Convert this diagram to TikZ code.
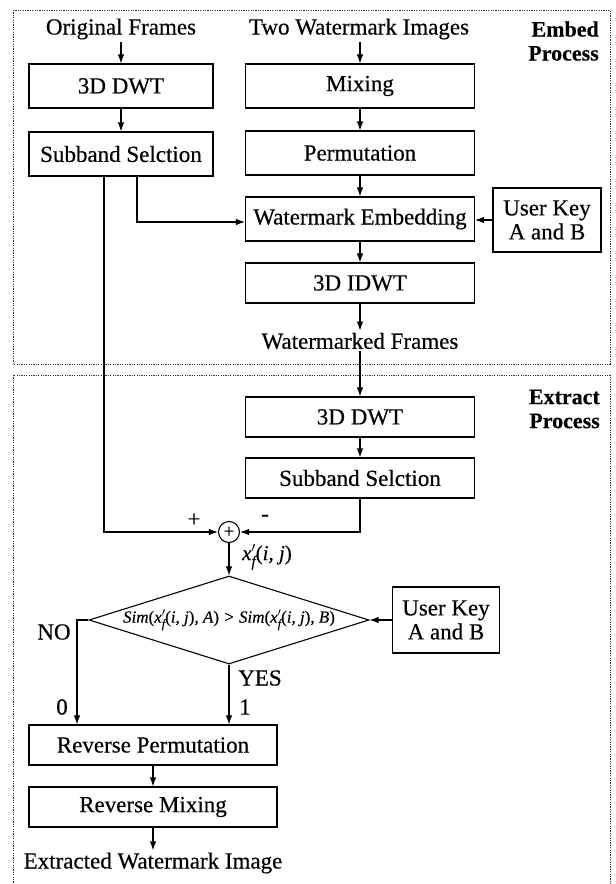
\documentclass[tikz,border=0pt]{standalone}
\usepackage{fontspec}
\usepackage{graphicx}
\setmainfont{Liberation Serif}[FakeBold=0.4]
\usetikzlibrary{arrows.meta,shapes.geometric,calc}

% x' with subscript f, prime stacked above the subscript
\newcommand{\xpf}{\textit{x}\rlap{$'$}\raisebox{-0.3em}{\scalebox{0.72}{\textit{f}}}}

\begin{document}
\begin{tikzpicture}[x=1pt,y=-1pt,
  font=\fontsize{23}{24}\selectfont,
  ln/.style={line width=1.1pt},
  blk/.style={draw,ln,inner sep=0,minimum height=44},
  txt/.style={inner sep=2},
  frame/.style={draw=black!80,line width=0.9pt,dash pattern=on 1.2pt off 1.2pt},
  arr/.style={ln,-{Latex[length=9pt,width=6.5pt]}},
  dia/.style={diamond,draw,ln,inner sep=0,aspect=3.18,minimum width=280,minimum height=88}]
\clip (0,0) rectangle (616,884);

% process frames
\draw[frame] (13,10) rectangle (610,364);
\draw[frame] (13,375) rectangle (610,900);
\node[txt,font=\fontsize{22}{24}\selectfont\bfseries,align=right,anchor=east] (embL) at (601,41) {Embed\\Process};
\node[txt,font=\fontsize{22}{24}\selectfont\bfseries,align=right,anchor=east] (extL) at (602,409) {Extract\\Process};

% embedding side
\node[txt] (origF) at (121,29) {Original Frames};
\node[txt] (twoW) at (359,29) {Two Watermark Images};
\node[blk,minimum width=184] (dwt1) at (121,86) {3D DWT};
\node[blk,minimum width=184] (sub1) at (121,154) {Subband Selction};
\node[blk,minimum width=229] (mix) at (360,86) {Mixing};
\node[blk,minimum width=229] (perm) at (360,153) {Permutation};
\node[blk,minimum width=229] (wemb) at (360,219) {Watermark Embedding};
\node[blk,minimum width=108,minimum height=64,align=center] (key1) at (547,220) {User Key\\A and B};
\node[blk,minimum width=229,minimum height=40] (idwt) at (360,283) {3D IDWT};
\node[txt] (wfr) at (360,341) {Watermarked Frames};

% extraction side
\node[blk,minimum width=229,minimum height=40] (dwt2) at (360,417) {3D DWT};
\node[blk,minimum width=229,minimum height=40] (sub2) at (360,478) {Subband Selction};
\node[circle,draw,ln,minimum size=21,inner sep=0,font=\fontsize{19}{19}\selectfont] (sum) at (229,532) {+};
\node[dia,font=\fontsize{17}{18}\selectfont\itshape] (dec) at (229,620)
  {Sim\textup{(}\xpf\textup{(}i, j\textup{)}, A\textup{)} > Sim\textup{(}\xpf\textup{(}i, j\textup{)}, B\textup{)}};
\node[blk,minimum width=107,minimum height=66,align=center] (key2) at (446,620) {User Key\\A and B};
\node[blk,minimum width=248,minimum height=40] (revP) at (153,745) {Reverse Permutation};
\node[blk,minimum width=248,minimum height=40] (revM) at (153,807) {Reverse Mixing};
\node[txt] (ext) at (153,863) {Extracted Watermark Image};

% connectors, embedding
\draw[arr] (origF) -- (dwt1);
\draw[arr] (dwt1) -- (sub1);
\draw[arr] (twoW.south -| mix.north) -- (mix.north);
\draw[arr] (mix) -- (perm);
\draw[arr] (perm) -- (wemb);
\draw[arr] (wemb) -- (idwt);
\draw[arr] (idwt) -- (wfr);
\draw[arr] (key1.west) -- (key1.west -| wemb.east);
\draw[arr] ([xshift=16]sub1.south) |- ([yshift=-3]wemb.west);

% connectors, extraction
\draw[arr] ([xshift=-17]sub1.south) |- (sum.west);
\draw[arr] (wfr) -- (dwt2);
\draw[arr] (dwt2) -- (sub2);
\draw[arr] (sub2.south) |- (sum.east);
\draw[arr] (sum) -- (dec.north);
\draw[arr] (key2.west) -- (dec.east);
\draw[arr] (dec.west) -| ([xshift=-76]revP.north);
\draw[arr] (dec.south) -- (dec.south |- revP.north);
\draw[arr] (revP) -- (revM);
\draw[arr] (revM) -- (ext);

% labels
\node[txt] (plus) at (194,520) {+};
\node[txt] (minus) at (265,518) {-};
\node[txt,font=\fontsize{21}{22}\selectfont\itshape] (xlab) at (267,557) {\xpf\textup{(}i, j\textup{)}};
\node[txt] (no) at (54,632) {NO};
\node[txt] (yes) at (260,678) {YES};
\node[txt] (zero) at (62,707) {0};
\node[txt] (one) at (245,707) {1};
\end{tikzpicture}
\end{document}
